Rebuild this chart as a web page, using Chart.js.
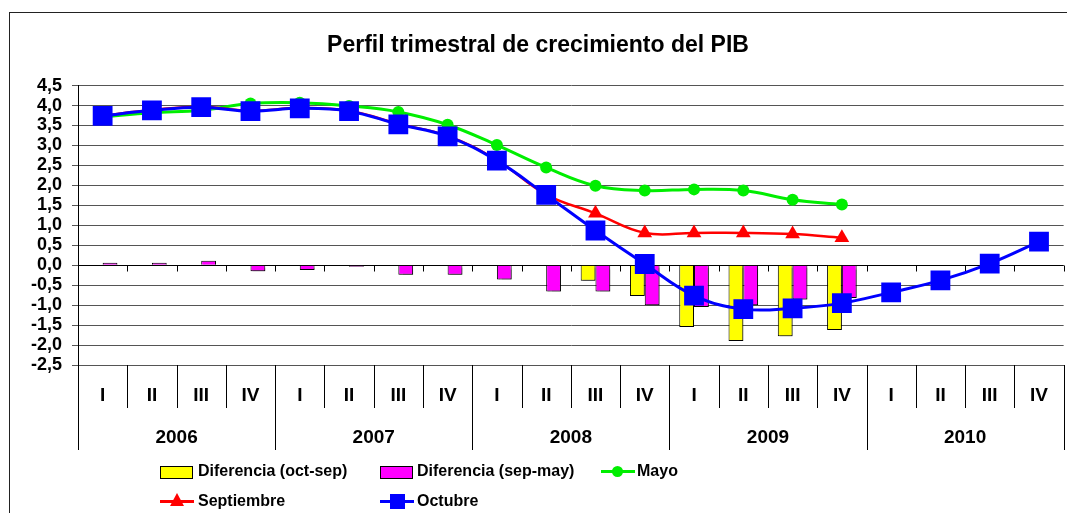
<!DOCTYPE html>
<html>
<head>
<meta charset="utf-8">
<script src="https://cdn.jsdelivr.net/npm/chart.js@4/dist/chart.umd.min.js"></script>
<style>
  body { margin: 0; background: #fff; overflow: hidden; }
  #wrap { position: relative; width: 1067px; height: 513px; }
  #frame { position: absolute; left: 9px; top: 12px; width: 1100px; height: 600px; border: 1px solid #222; box-sizing: border-box; pointer-events: none; }
  .leg { position: absolute; font: bold 16px "Liberation Sans", Arial, sans-serif; color: #000; white-space: nowrap; line-height: 18px; }
  .box { position: absolute; width: 31px; height: 11px; border: 1px solid #000; }
  .ln { position: absolute; width: 34px; height: 3px; }
</style>
</head>
<body>
<div id="wrap">
  <canvas id="pibChart" width="1067" height="513"></canvas>
  <div id="frame"></div>

  <div class="box" style="left:160px;top:466px;background:#ffff00"></div>
  <div class="leg" style="left:198px;top:462px">Diferencia (oct-sep)</div>
  <div class="box" style="left:380px;top:466px;background:#ff00ff"></div>
  <div class="leg" style="left:417px;top:462px">Diferencia (sep-may)</div>
  <div class="ln" style="left:601px;top:470px;background:#00ee00"></div>
  <div style="position:absolute;left:612px;top:466px;width:11px;height:11px;border-radius:50%;background:#00ee00"></div>
  <div class="leg" style="left:637px;top:462px">Mayo</div>

  <div class="ln" style="left:160px;top:500px;background:#ff0000"></div>
  <div style="position:absolute;left:170px;top:493px;width:0;height:0;border-left:7px solid transparent;border-right:7px solid transparent;border-bottom:13px solid #ff0000"></div>
  <div class="leg" style="left:198px;top:492px">Septiembre</div>
  <div class="ln" style="left:380px;top:500px;background:#0000ff"></div>
  <div style="position:absolute;left:390px;top:494px;width:15px;height:15px;background:#0000ff"></div>
  <div class="leg" style="left:417px;top:492px">Octubre</div>
</div>
<script>
  const quarters = ['I','II','III','IV','I','II','III','IV','I','II','III','IV','I','II','III','IV','I','II','III','IV'];
  const years = ['2006', '2007', '2008', '2009', '2010'];

  // diferencias (barras)
  const difOctSep = [null, null, null, null, null, null, null, null, null, null, -0.39, -0.77, -1.55, -1.90, -1.78, -1.62, null, null, null, null];
  const difSepMay = [0.06, 0.06, 0.11, -0.15, -0.12, -0.04, -0.24, -0.24, -0.36, -0.66, -0.66, -1.00, -1.05, -1.00, -0.86, -0.82, null, null, null, null];

  // perfiles (lineas)
  const mayo = [3.72, 3.82, 3.88, 4.05, 4.07, 3.99, 3.84, 3.52, 3.01, 2.45, 1.99, 1.87, 1.90, 1.87, 1.64, 1.52];
  const septiembre = [3.75, 3.89, 3.97, 3.87, 3.94, 3.87, 3.54, 3.24, 2.63, 1.77, 1.30, 0.81, 0.81, 0.81, 0.78, 0.69];
  const octubre = [3.74, 3.88, 3.96, 3.86, 3.93, 3.86, 3.53, 3.23, 2.62, 1.76, 0.87, 0.03, -0.76, -1.10, -1.08, -0.95, -0.68, -0.38, 0.04, 0.59];

  const yMin = -2.5, yMax = 4.5, yStep = 0.5;
  const fontFam = '"Liberation Sans", Arial, sans-serif';

  // zero axis with its ticks + the category table below the plot
  const tablaEjes = {
    id: 'tablaEjes',
    beforeDatasetsDraw(chart) {
      const { ctx, chartArea: a, scales: { y } } = chart;
      const n = quarters.length;
      const w = (a.right - a.left) / n;
      const y0 = Math.round(y.getPixelForValue(0)) + 0.5;
      ctx.save();
      ctx.strokeStyle = '#000';
      ctx.lineWidth = 1;
      ctx.beginPath();
      ctx.moveTo(a.left, y0); ctx.lineTo(a.right, y0);
      for (let i = 0; i <= n; i++) {
        const xx = Math.round(a.left + i * w) + 0.5;
        ctx.moveTo(xx, y0); ctx.lineTo(xx, y0 + 6);
        ctx.moveTo(xx, a.bottom);
        ctx.lineTo(xx, i % 4 === 0 ? a.bottom + 85 : a.bottom + 43);
      }
      ctx.stroke();
      ctx.restore();
    }
  };

  const sombra = {
    id: 'sombra',
    beforeDatasetDraw(chart, args) {
      if (args.meta.type !== 'bar') return;
      const ctx = chart.ctx;
      ctx.save();
      ctx.shadowColor = 'rgba(0,0,0,0.35)';
      ctx.shadowOffsetX = 2;
      ctx.shadowOffsetY = 2;
      ctx.shadowBlur = 1;
    },
    afterDatasetDraw(chart, args) {
      if (args.meta.type !== 'bar') return;
      chart.ctx.restore();
    }
  };

  new Chart(document.getElementById('pibChart'), {
    type: 'bar',
    data: {
      labels: quarters,
      datasets: [
        { type: 'line', label: 'Octubre', data: octubre, borderColor: '#0000ff', backgroundColor: '#0000ff', borderWidth: 3, tension: 0.4, pointStyle: 'rect', pointRadius: 14, pointBorderWidth: 0, fill: false },
        { type: 'line', label: 'Septiembre', data: septiembre, borderColor: '#ff0000', backgroundColor: '#ff0000', borderWidth: 2.5, tension: 0.4, pointStyle: 'triangle', pointRadius: 8.5, pointBorderWidth: 0, fill: false },
        { type: 'line', label: 'Mayo', data: mayo, borderColor: '#00ee00', backgroundColor: '#00ee00', borderWidth: 3, tension: 0.4, pointStyle: 'circle', pointRadius: 6, pointBorderWidth: 0, fill: false },
        { label: 'Diferencia (oct-sep)', data: difOctSep, backgroundColor: '#ffff00', borderColor: '#000', borderWidth: 1, categoryPercentage: 0.6, barPercentage: 1.0 },
        { label: 'Diferencia (sep-may)', data: difSepMay, backgroundColor: '#ff00ff', borderColor: '#000', borderWidth: 1, categoryPercentage: 0.6, barPercentage: 1.0 }
      ]
    },
    options: {
      responsive: false,
      animation: false,
      events: [],
      layout: { autoPadding: false, padding: { top: 13, left: 10, right: 1, bottom: 63 } },
      plugins: {
        legend: { display: false },
        tooltip: { enabled: false },
        title: {
          display: true,
          text: 'Perfil trimestral de crecimiento del PIB',
          color: '#000',
          font: { family: fontFam, size: 23, weight: 'bold' },
          padding: { top: 19, bottom: 26 }
        }
      },
      scales: {
        y: {
          min: yMin, max: yMax,
          afterFit: s => { s.width = 68; },
          ticks: {
            stepSize: yStep, padding: 10, color: '#000', autoSkip: false,
            font: { family: fontFam, size: 18, weight: 'bold' },
            callback: v => v.toFixed(1).replace('.', ',')
          },
          grid: { color: '#555', tickLength: 6, tickColor: '#555' },
          border: { color: '#000', width: 1 }
        },
        x: {
          afterFit: s => { s.height = 43; },
          grid: { display: false, drawTicks: false },
          border: { color: '#555' },
          ticks: { padding: 19, color: '#000', maxRotation: 0, autoSkip: false, font: { family: fontFam, size: 19, weight: 'bold' } }
        },
        x2: {
          type: 'category',
          labels: years,
          position: 'bottom',
          offset: true,
          afterFit: s => { s.height = 42; },
          grid: { display: false, drawTicks: false },
          border: { display: false },
          ticks: { padding: 18, color: '#000', maxRotation: 0, font: { family: fontFam, size: 19, weight: 'bold' } }
        }
      }
    },
    plugins: [tablaEjes, sombra]
  });
</script>
</body>
</html>
